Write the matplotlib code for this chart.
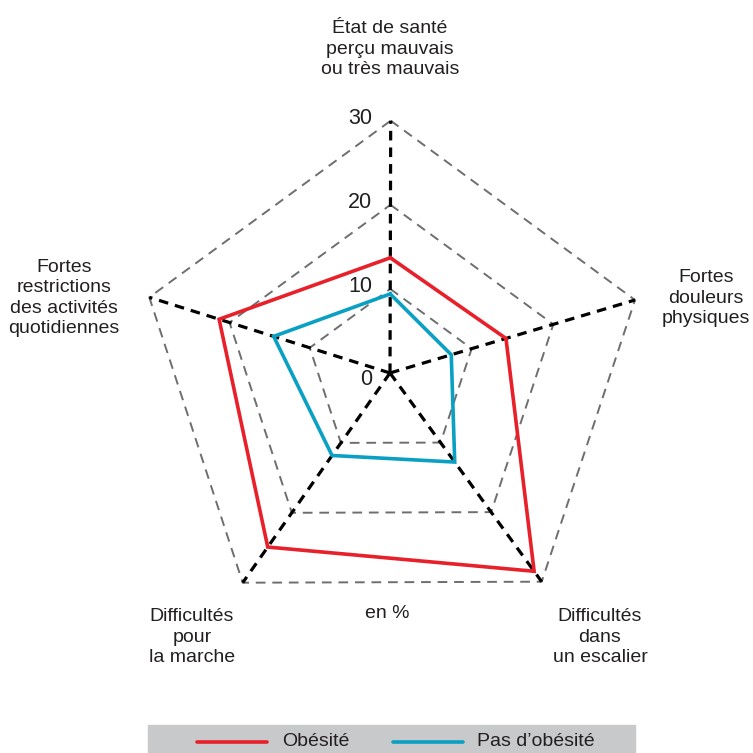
import numpy as np
import matplotlib.pyplot as plt

# categories (clockwise from the top)
categories = ["État de santé\nperçu mauvais\nou très mauvais",
              "Fortes\ndouleurs\nphysiques",
              "Difficultés\ndans\nun escalier",
              "Difficultés\npour\nla marche",
              "Fortes\nrestrictions\ndes activités\nquotidiennes"]
obesite = [13.7, 14.2, 28.5, 24.9, 21.3]
pas_obesite = [9.4, 7.5, 12.8, 11.8, 14.5]
rings = [10, 20, 30]
ring_labels = ["0", "10", "20", "30"]

vmax = 30.0
# chart is drawn in a slightly skewed perspective: direction of each axis at vmax
center = np.array([390.0, 373.0])
axis_dirs = np.array([[0.7, -252.3],
                      [245.0, -73.0],
                      [151.7, 208.7],
                      [-147.3, 209.7],
                      [-240.7, -75.7]])

def to_xy(values):
    v = np.asarray(values, dtype=float)[:, None] / vmax
    pts = center + v * axis_dirs
    return np.vstack([pts, pts[:1]])

plt.rcParams['font.family'] = ['Liberation Sans', 'DejaVu Sans']
txt_color = '#231f20'
fs = 14

fig = plt.figure(figsize=(7.53, 7.53), dpi=100)
ax = fig.add_axes([0, 0, 1, 1])
ax.set_xlim(0, 753)
ax.set_ylim(753, 0)
ax.axis('off')

# grey dashed rings
for r in rings:
    p = to_xy([r] * 5)
    ax.plot(p[:, 0], p[:, 1], color='#6d6e70', lw=1.4, dashes=(5, 3.5), zorder=1)

# black dashed spokes
for d in axis_dirs:
    ax.plot([center[0], center[0] + d[0]], [center[1], center[1] + d[1]],
            color='black', lw=2.3, dashes=(3, 2.2), zorder=2)

# data polygons
p = to_xy(pas_obesite)
ax.plot(p[:, 0], p[:, 1], color='#0aa0c4', lw=2.6, zorder=3, solid_joinstyle='miter')
p = to_xy(obesite)
ax.plot(p[:, 0], p[:, 1], color='#e8202a', lw=2.6, zorder=4, solid_joinstyle='miter')

# scale labels along the top axis
for i, lab in enumerate(ring_labels):
    v = i * 10
    y = center[1] + v / vmax * axis_dirs[0][1]
    if v == 0:
        y += 8
    ax.text(372, y - 2, lab, ha='right', va='center', fontsize=15.5, color=txt_color)

# category labels
label_pos = [(390, 49), (706, 298), (600, 637), (192, 637), (64, 298)]
for lab, (x, y) in zip(categories, label_pos):
    ax.text(x, y, lab, ha='center', va='center', fontsize=fs, color=txt_color,
            linespacing=1.25)

ax.text(387, 614, "en %", ha='center', va='center', fontsize=fs, color=txt_color)

# legend band
ax.add_patch(plt.Rectangle((148, 725), 487, 28, color='#c8c9cb', zorder=0))
ax.plot([197, 267], [742, 742], color='#e8202a', lw=2.6, solid_capstyle='round')
ax.text(282, 741, "Obésité", ha='left', va='center', fontsize=fs, color=txt_color)
ax.plot([393, 463], [742, 742], color='#0aa0c4', lw=2.6, solid_capstyle='round')
ax.text(477, 741, "Pas d\u2019obésité", ha='left', va='center', fontsize=fs, color=txt_color)

fig.savefig('out.png', dpi=100)
